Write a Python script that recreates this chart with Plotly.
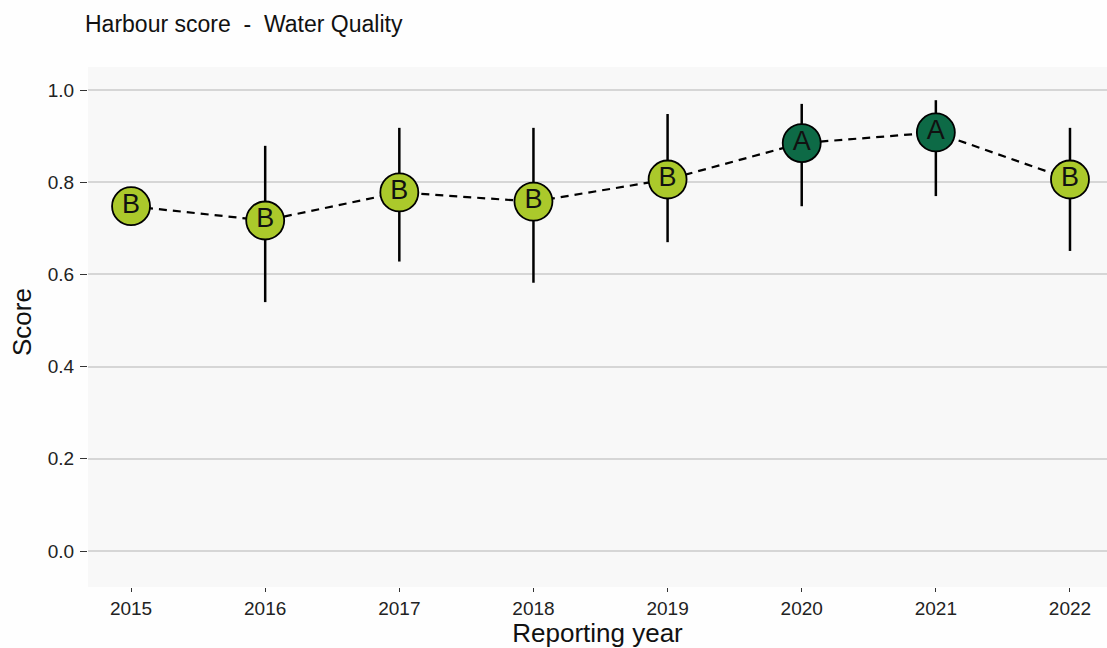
import plotly.graph_objects as go

years = [2015, 2016, 2017, 2018, 2019, 2020, 2021, 2022]
scores = [0.748, 0.717, 0.778, 0.758, 0.806, 0.885, 0.908, 0.806]
lower = [None, 0.540, 0.628, 0.582, 0.670, 0.748, 0.770, 0.651]
upper = [None, 0.879, 0.918, 0.918, 0.948, 0.970, 0.978, 0.918]
grades = ["B", "B", "B", "B", "B", "A", "A", "B"]

grade_colors = {"A": "#0d6a46", "B": "#abc92b"}

err_plus = [(u - s) if u is not None else 0 for u, s in zip(upper, scores)]
err_minus = [(s - l) if l is not None else 0 for l, s in zip(lower, scores)]

FONT = "Liberation Sans, Arial, Helvetica, sans-serif"

fig = go.Figure()

fig.add_trace(go.Scatter(
    x=years, y=scores, mode="lines",
    line=dict(color="black", width=2.2, dash="8px,6px"),
    error_y=dict(type="data", symmetric=False, array=err_plus, arrayminus=err_minus,
                 color="black", thickness=2.5, width=0),
    hoverinfo="skip", showlegend=False,
))

fig.add_trace(go.Scatter(
    x=years, y=scores, mode="markers+text",
    text=grades, textposition="middle center",
    textfont=dict(family=FONT, size=27, color="#111111"),
    marker=dict(size=38, color=[grade_colors[g] for g in grades],
                line=dict(color="black", width=1.8)),
    showlegend=False,
))

fig.update_layout(
    width=1107, height=648,
    margin=dict(l=88, r=0, t=67, b=61),
    paper_bgcolor="#fefefe",
    plot_bgcolor="#f8f8f8",
    font=dict(family=FONT, color="#222222"),
    title=dict(text="Harbour score  -  Water Quality", x=85/1107, xanchor="left",
               xref="container", y=1 - 24/648, yref="container", yanchor="middle",
               font=dict(family=FONT, size=23, color="#111111")),
    xaxis=dict(
        range=[2014.679, 2022.276], tickvals=years, ticktext=[str(y) for y in years],
        showgrid=False, zeroline=False, showline=False,
        ticks="outside", ticklen=4, tickwidth=1.2, tickcolor="#333333",
        tickfont=dict(family=FONT, size=19, color="#222222"),
        title=dict(text="Reporting year", font=dict(family=FONT, size=26, color="#111111"), standoff=0),
    ),
    yaxis=dict(
        range=[-0.078, 1.05], tickvals=[0, 0.2, 0.4, 0.6, 0.8, 1.0],
        ticktext=["0.0", "0.2", "0.4", "0.6", "0.8", "1.0"],
        showgrid=True, gridcolor="#d6d6d6", gridwidth=1.5,
        zeroline=False, showline=False,
        ticks="outside", ticklen=7, tickwidth=1.2, tickcolor="#333333",
        ticklabelstandoff=2,
        tickfont=dict(family=FONT, size=19, color="#222222"),
    ),
    annotations=[dict(
        text="Score", textangle=-90, showarrow=False,
        xref="paper", yref="paper", x=(22 - 88) / 1019, y=(587 - 322) / 520,
        xanchor="center", yanchor="middle",
        font=dict(family=FONT, size=26, color="#111111"),
    )],
)

fig.write_html("out.html")
